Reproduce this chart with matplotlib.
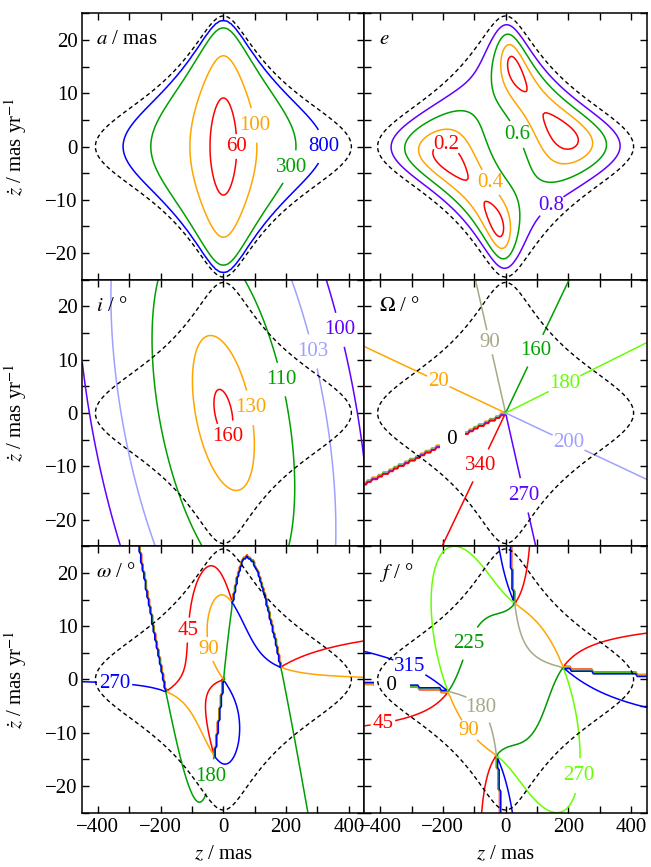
import numpy as np
import matplotlib.pyplot as plt
from matplotlib.ticker import MultipleLocator

plt.rcParams['font.family'] = 'serif'
plt.rcParams['font.serif'] = ['Liberation Serif', 'DejaVu Serif']
plt.rcParams['mathtext.fontset'] = 'stix'
plt.rcParams['font.size'] = 15
plt.rcParams['lines.dashed_pattern'] = [3.0, 2.2]

# central mass and the star's sky-plane offset / proper motion (mas, yr)
GM = 31000.0
r_sky = 82.8
v_sky = 12.2
pa_r = 124.0
pa_v = 9.5

# unknown line-of-sight position and velocity
z = np.arange(-450, 450.1, 5.0)
zdot = np.arange(-25, 25.01, 0.5)

a_levels = [60, 100, 300, 800]
a_colors = ['red', 'orange', '#00a000', 'blue']
a_where = [(37, 0), (113, 4.1), (192, -3.3), (315, 0)]

e_levels = [0.2, 0.4, 0.6, 0.8]
e_colors = ['red', 'orange', '#00a000', '#6000ff']
e_where = [(-191, -0.4), (-64, -7.4), (16, 1.7), (142, -10.8)]

i_levels = [100, 103, 110, 130, 160]
i_colors = ['#6000ff', '#a0a0ff', '#00a000', 'orange', 'red']
i_where = [(365, 15.5), (288, 11.6), (187, 6.3), (98, 1.1), (21, -6.4)]

node_levels = [20, 90, 160, 180, 200, 270, 340]
node_colors = ['orange', '#a8a888', '#00a000', '#66ff00', '#a0a0ff', '#6000ff', 'red']
node_where = [(-216, 5.8), (-50, 13.3), (94, 11.7), (192, 5), (198, -5.9), (48, -15.6), (-88, -9.6)]
node_zero = (-173, -4.5)

peri_levels = [45, 90, 180, 270]
peri_colors = ['red', 'orange', '#00a000', 'blue']
peri_where = [(-119, 9.3), (-43, 5.7), (-35, -18.3), (-347, -0.7)]

anom_levels = [45, 90, 180, 225, 270, 315]
anom_colors = ['red', 'orange', '#a8a888', '#009900', '#66ff00', 'blue']
anom_where = [(-392, -7.9), (-127, -10), (-77, -5.1), (-111, 6.7), (238, -18.1), (-306, 2.4)]
anom_zero = (-363, -1.2)


def dot(p, q):
    return np.sum(p * q, axis=0)


def orbital_elements(z, zdot):
    Z, ZD = np.meshgrid(z, zdot)
    one = np.ones_like(Z)
    r = np.array([r_sky * np.cos(np.radians(pa_r)) * one,
                  r_sky * np.sin(np.radians(pa_r)) * one, Z])
    v = np.array([v_sky * np.cos(np.radians(pa_v)) * one,
                  v_sky * np.sin(np.radians(pa_v)) * one, ZD])
    rn = np.sqrt(dot(r, r))
    energy = 0.5 * dot(v, v) - GM / rn
    h = np.cross(r, v, axis=0)
    hn = np.sqrt(dot(h, h))
    hhat = h / hn
    node = np.array([-h[1], h[0], 0 * Z])
    ecc = np.cross(v, h, axis=0) / GM - r / rn
    el = {}
    el['E'] = energy
    el['a'] = np.ma.masked_where(energy >= 0, -GM / (2 * np.where(energy < 0, energy, -1)))
    el['e'] = np.sqrt(dot(ecc, ecc))
    el['i'] = np.degrees(np.arccos(np.clip(h[2] / hn, -1, 1)))
    el['Om'] = np.degrees(np.arctan2(node[1], node[0])) % 360
    el['om'] = np.degrees(np.arctan2(dot(np.cross(node, ecc, axis=0), hhat), dot(node, ecc))) % 360
    el['f'] = np.degrees(np.arctan2(dot(np.cross(ecc, r, axis=0), hhat), dot(ecc, r))) % 360
    return el


el = orbital_elements(z, zdot)

fig, axes = plt.subplots(3, 2, figsize=(6.51, 8.67), dpi=100, sharex=True, sharey=True)
fig.subplots_adjust(left=0.1264, right=0.9934, top=0.9847, bottom=0.0626, wspace=0, hspace=0)


def draw(ax, field, levels, colors, where, fmt, title):
    ax.contour(z, zdot, el['E'], levels=[0], colors='k', linewidths=1.0, linestyles='--', zorder=4)
    # one contour set per level, so each label lands on its own line
    for lev, col, pos in zip(levels, colors, where):
        cs = ax.contour(z, zdot, field, levels=[lev], colors=[col], linewidths=1.1, zorder=2)
        txt = ax.clabel(cs, manual=[pos], inline=True, fmt=fmt, fontsize=15, inline_spacing=2)
        for t in txt:
            t.set_rotation(0)
    ax.text(0.05, 0.9, title, transform=ax.transAxes, va='center', ha='left', fontsize=15)


def zero_label(ax, field, pos, fmt):
    # the 0/360 wrap has no contour of its own; label it from the shifted angle
    shifted = (field + 180) % 360 - 180
    cs = ax.contour(z, zdot, shifted, levels=[0], colors='k', linewidths=0)
    txt = ax.clabel(cs, manual=[pos], inline=False, fmt=fmt, fontsize=15, colors='k')
    for t in txt:
        t.set_rotation(0)
        t.set_zorder(3)
        t.set_bbox(dict(facecolor='white', edgecolor='none', pad=1.5))


draw(axes[0, 0], el['a'], a_levels, a_colors, a_where, '%d', r'$a$ / mas')
draw(axes[0, 1], el['e'], e_levels, e_colors, e_where, '%.1f', r'$e$')
draw(axes[1, 0], el['i'], i_levels, i_colors, i_where, '%d', r'$i$ / °')
draw(axes[1, 1], el['Om'], node_levels, node_colors, node_where, '%d', r'$\Omega$ / °')
zero_label(axes[1, 1], el['Om'], node_zero, ' %d ')
draw(axes[2, 0], el['om'], peri_levels, peri_colors, peri_where, '%d', r'$\omega$ / °')
draw(axes[2, 1], el['f'], anom_levels, anom_colors, anom_where, '%d', r'$f$ / °')
zero_label(axes[2, 1], el['f'], anom_zero, '  %d  ')

for ax in axes.flat:
    ax.set_xlim(-450, 450)
    ax.set_ylim(-25, 25)
    ax.xaxis.set_major_locator(MultipleLocator(200))
    ax.xaxis.set_minor_locator(MultipleLocator(100))
    ax.yaxis.set_major_locator(MultipleLocator(10))
    ax.yaxis.set_minor_locator(MultipleLocator(5))
    ax.tick_params(which='both', direction='in', top=True, right=True, length=5, width=1.0,
                   labelsize=15)
    for sp in ax.spines.values():
        sp.set_linewidth(1.1)
        sp.set_zorder(5)

for ax in axes[:, 0]:
    ax.set_ylabel(r'$\dot{z}$ / mas yr$^{-1}$', fontsize=15)
    ax.yaxis.set_label_coords(-0.19, 0.5)
for ax in axes[2, :]:
    ax.set_xlabel(r'$z$ / mas', fontsize=15, labelpad=6)

fig.savefig('out.png', dpi=100)
